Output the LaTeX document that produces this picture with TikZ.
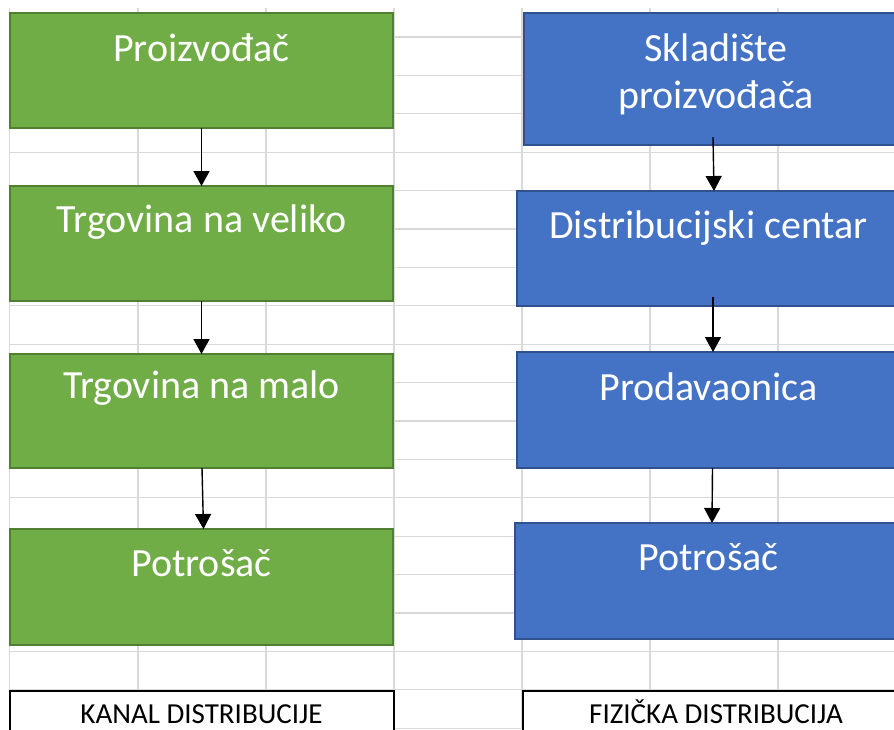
\documentclass[tikz,border=0pt]{standalone}
\usepackage{fontspec}
\setmainfont{Carlito}
\usetikzlibrary{arrows.meta}
\definecolor{gfill}{HTML}{70AD47}
\definecolor{gline}{HTML}{507E32}
\definecolor{bfill}{HTML}{4472C4}
\definecolor{bline}{HTML}{2F528F}
\definecolor{gridc}{HTML}{D9D9D9}
\begin{document}
\begin{tikzpicture}[x=1pt,y=-1pt,
  box/.style={line width=2pt, anchor=north west, inner sep=0pt, outer sep=0pt},
  gbox/.style={box, fill=gfill, draw=gline},
  bbox/.style={box, fill=bfill, draw=bline},
  txt/.style={text=white, font=\fontsize{40}{47}\selectfont, anchor=base, inner sep=0pt, align=center},
  lab/.style={text=black, font=\fontsize{29}{34}\selectfont, anchor=base, inner sep=0pt},
  labbox/.style={draw=black, line width=2pt, fill=white, anchor=north west, inner sep=0pt, outer sep=0pt},
  arr/.style={-{Triangle[length=15pt,width=16pt]}, line width=1.4pt, draw=black},
  gridline/.style={draw=gridc, line width=1.2pt}]
\useasboundingbox (0,0) rectangle (894,729);
\clip (0,0) rectangle (894,729);
\fill[white] (0,0) rectangle (894,729);
% spreadsheet grid
\foreach \k in {0,...,18} {
  \path[gridline] (9,37+38.4*\k) -- (894,37+38.4*\k);
}
\foreach \x in {9.5,138,266,394,522,650,778} {
  \path[gridline] (\x,8) -- (\x,729);
}
% green column
\node[gbox, minimum width=383pt, minimum height=115pt] (g1) at (10,13) {};
\node[gbox, minimum width=383pt, minimum height=115pt] (g2) at (10,186) {};
\node[gbox, minimum width=383pt, minimum height=114pt] (g3) at (10,354) {};
\node[gbox, minimum width=383pt, minimum height=116pt] (g4) at (10,529) {};
\node[txt] (tg1) at (201.5,61) {Proizvođač};
\node[txt] (tg2) at (201.5,232) {Trgovina na veliko};
\node[txt] (tg3) at (201.5,398) {Trgovina na malo};
\node[txt] (tg4) at (201.5,576) {Potrošač};
% blue column
\node[bbox, minimum width=384pt, minimum height=132pt] (b1) at (524,13) {};
\node[bbox, minimum width=385pt, minimum height=115pt] (b2) at (517,191) {};
\node[bbox, minimum width=385pt, minimum height=116pt] (b3) at (517,352) {};
\node[bbox, minimum width=388pt, minimum height=116pt] (b4) at (515,523) {};
\node[txt] (tb1) at (716,108) {Skladište\\proizvođača};
\node[txt] (tb2) at (708.5,238) {Distribucijski centar};
\node[txt] (tb3) at (708.5,400) {Prodavaonica};
\node[txt] (tb4) at (708.5,570) {Potrošač};
% arrows
\draw[arr] (g1.south) -- (g2.north);
\draw[arr] (g2.south) -- (g3.north);
\draw[arr] ([xshift=0.5pt]g3.south) -- ([xshift=2pt]g4.north);
\draw[arr] ([xshift=-3pt,yshift=8pt]b1.south) -- ([xshift=4.5pt]b2.north);
\draw[arr] ([xshift=3.5pt,yshift=9pt]b2.south) -- ([xshift=3.5pt]b3.north);
\draw[arr] ([xshift=3pt]b3.south) -- ([xshift=3pt]b4.north);
% bottom labels
\node[labbox, minimum width=384pt, minimum height=60pt] (lk) at (10,691) {};
\node[labbox, minimum width=388pt, minimum height=60pt] (lf) at (523,691) {};
\node[lab] (tk) at (201.5,723) {KANAL DISTRIBUCIJE};
\node[lab] (tf) at (716,723) {FIZIČKA DISTRIBUCIJA};
\end{tikzpicture}
\end{document}
